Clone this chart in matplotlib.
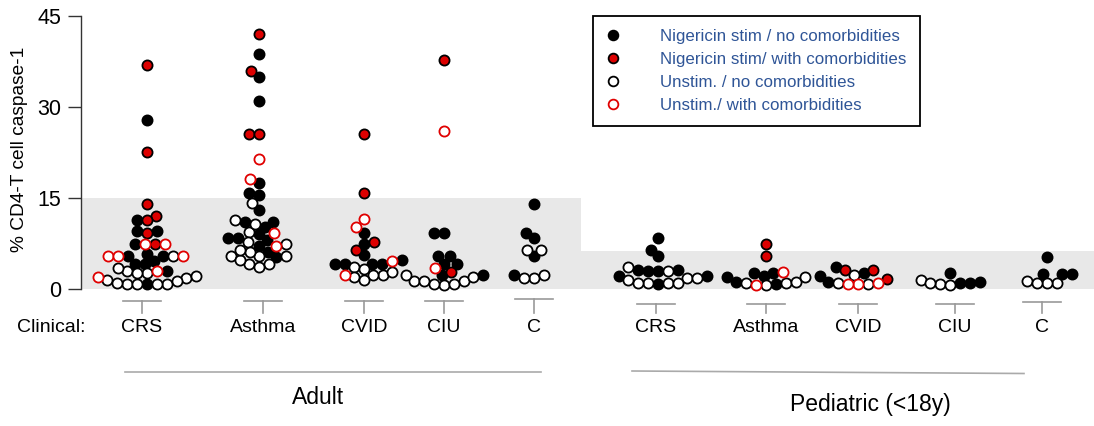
import numpy as np
import matplotlib
matplotlib.use("Agg")
import matplotlib.pyplot as plt
from matplotlib.lines import Line2D
import matplotlib.transforms as mtransforms

plt.rcParams['font.family'] = ['Liberation Sans', 'DejaVu Sans']

# ---------------- data ----------------
groups = ["Adult", "Pediatric (<18y)"]
categories = ["CRS", "Asthma", "CVID", "CIU", "C"]
series_labels = ["Nigericin stim / no comorbidities",
                 "Nigericin stim/ with comorbidities",
                 "Unstim. / no comorbidities",
                 "Unstim./ with comorbidities"]

# Adult
adult_stim_no = {
    "CRS": [27.8, 11.4, 9.6, 9.6, 7.4, 5.4, 5.4, 4.2, 5.8, 4.2, 4.6, 2.9, 0.9],
    "Asthma": [38.8, 35.0, 31.0, 17.4, 15.5, 15.9, 13.0, 11.1, 11.1, 10.3, 8.4, 8.4, 6.1, 5.2, 7.1, 8.1, 9.0],
    "CVID": [9.3, 7.4, 5.6, 4.8, 4.2, 4.2, 4.2, 4.2],
    "CIU": [9.3, 9.3, 5.5, 5.5, 4.2, 4.2, 2.3, 2.3],
    "C": [14.0, 9.3, 8.4, 5.4, 2.3],
}
adult_stim_with = {
    "CRS": [36.9, 22.5, 14.0, 12.0, 11.3, 9.3, 7.4],
    "Asthma": [42.1, 36.0, 25.6, 25.6],
    "CVID": [25.6, 15.9, 7.8, 6.5],
    "CIU": [37.8, 2.85],
    "C": [],
}
adult_unstim_no = {
    "CRS": [5.4, 2.9, 2.6, 0.9, 0.9, 0.9, 1.8, 2.6, 0.9, 3.4, 2.2, 1.3, 1.5, 1.0],
    "Asthma": [14.1, 11.4, 9.4, 7.7, 7.4, 5.5, 5.4, 4.2, 4.2, 5.5, 4.7, 6.1, 3.7, 10.7, 6.5],
    "CVID": [2.3, 3.7, 2.0, 2.3, 1.5, 3.3, 2.8],
    "CIU": [1.4, 1.3, 0.7, 0.9, 1.3, 0.9, 2.3, 1.9],
    "C": [6.5, 6.5, 1.8, 1.8, 2.3],
}
adult_unstim_with = {
    "CRS": [7.4, 5.4, 7.4, 5.4, 5.4, 1.9, 2.9],
    "Asthma": [21.5, 18.2, 9.2, 7.1],
    "CVID": [11.6, 10.3, 4.6, 2.3],
    "CIU": [26.0, 3.5],
    "C": [],
}
# Pediatric
ped_stim_no = {
    "CRS": [8.4, 6.5, 5.4, 3.0, 3.0, 3.2, 3.2, 2.1, 2.1, 0.9],
    "Asthma": [1.9, 0.9, 2.6, 2.6, 1.2, 2.2],
    "CVID": [3.6, 2.6, 2.2, 1.2],
    "CIU": [2.6, 1.0, 1.0, 1.2],
    "C": [5.3, 2.4, 2.4, 2.5],
}
ped_stim_with = {
    "CRS": [],
    "Asthma": [7.4, 5.4],
    "CVID": [1.7, 3.2, 3.2],
    "CIU": [],
    "C": [],
}
ped_unstim_no = {
    "CRS": [1.8, 1.0, 1.0, 1.0, 1.5, 1.0, 3.6, 3.0, 1.8],
    "Asthma": [1.0, 0.6, 1.0, 1.2, 1.9],
    "CVID": [2.3, 0.8, 1.0],
    "CIU": [0.8, 1.5, 0.7, 1.0],
    "C": [1.0, 1.4, 1.0, 1.0],
}
ped_unstim_with = {
    "CRS": [],
    "Asthma": [2.85, 0.7],
    "CVID": [0.8, 0.8, 1.0],
    "CIU": [],
    "C": [],
}
# reference (normal) range shading per group
normal_upper = [15.0, 6.3]
yticks = [0, 15, 30, 45]

# ---------------- layout ----------------
W, H = 1094, 426
fig = plt.figure(figsize=(W / 100, H / 100), dpi=100)
y0_px, y45_px = 289, 16
ax_left = 81
ax = fig.add_axes([ax_left / W, 1 - y0_px / H, (W - ax_left) / W, (y0_px - y45_px) / H])
ax.set_xlim(ax_left, W)
ax.set_ylim(0, 45)
px_per_unit = (y0_px - y45_px) / 45.0

label_x = {
    "Adult": [142, 263, 364, 444, 534],
    "Pediatric (<18y)": [656, 766, 858, 955, 1042],
}
swarm_x = {
    "Adult": [147, 259, 364, 444, 534],
    "Pediatric (<18y)": [658, 766, 858, 950, 1047],
}
band_x = {"Adult": (82, 581), "Pediatric (<18y)": (581, W)}

# shading
for g, up in zip(groups, normal_upper):
    x0, x1 = band_x[g]
    ax.fill_between([x0, x1], 0, up, color="#e8e8e8", lw=0, zorder=0)

styles = [
    dict(marker="o", mfc="black", mec="black"),
    dict(marker="o", mfc="#dd0000", mec="black"),
    dict(marker="o", mfc="white", mec="black"),
    dict(marker="o", mfc="white", mec="#e00000"),
]
ms = 7.3
mew = 1.3


def swarm(yp, d):
    order = np.argsort(yp)
    xs = np.zeros(len(yp))
    placed = []
    for i in order:
        y = yp[i]
        cands = [0.0]
        intervals = []
        for j in placed:
            dy = abs(yp[j] - y)
            if dy < d:
                w = np.sqrt(d * d - dy * dy)
                intervals.append((xs[j] - w, xs[j] + w))
                cands += [xs[j] - w, xs[j] + w]
        cands = sorted(cands, key=lambda c: (abs(c), c))
        for c in cands:
            if all(not (a + 1e-9 < c < b - 1e-9) for a, b in intervals):
                xs[i] = c
                break
        placed.append(i)
    return xs


group_data = {
    "Adult": [adult_stim_no, adult_stim_with, adult_unstim_no, adult_unstim_with],
    "Pediatric (<18y)": [ped_stim_no, ped_stim_with, ped_unstim_no, ped_unstim_with],
}

for g in groups:
    for ci, cat in enumerate(categories):
        vals, sers = [], []
        for si, d in enumerate(group_data[g]):
            vals += d[cat]
            sers += [si] * len(d[cat])
        vals = np.array(vals, float)
        sers = np.array(sers)
        xs = swarm(vals * px_per_unit, 10.0) + swarm_x[g][ci]
        for si in [2, 3, 0, 1]:
            m = sers == si
            if m.any():
                ax.plot(xs[m], vals[m], ls="none", ms=ms, mew=mew, zorder=3 + si * 0.1,
                        clip_on=False, **styles[si])

# axes styling
for s in ["top", "right", "bottom"]:
    ax.spines[s].set_visible(False)
ax.spines["left"].set_color("#333333")
ax.spines["left"].set_linewidth(1.0)
ax.set_xticks([])
ax.set_yticks(yticks)
ax.set_yticklabels([str(t) for t in yticks], fontsize=15.5)
ax.tick_params(axis="y", length=9.5, width=1.0, color="#333333", pad=4.5)
fig.text(20 / W, 1 - 149 / H, "% CD4-T cell caspase-1", rotation=90,
         ha="center", va="center", fontsize=13.8)

# category markers and labels
trans = mtransforms.blended_transform_factory(ax.transData, fig.transFigure)
bar_y = {"Adult": 301, "Pediatric (<18y)": 304}
for g in groups:
    for ci, cat in enumerate(categories):
        cx = label_x[g][ci]
        by = bar_y[g] - (2 if cat == "C" else 0)
        ax.plot([cx - 19, cx + 19], [1 - by / H] * 2, color="#999999", lw=1.2,
                transform=trans, clip_on=False)
        ax.plot([cx, cx], [1 - by / H, 1 - 313 / H], color="#999999", lw=1.2,
                transform=trans, clip_on=False)
        ax.text(cx, 1 - 327 / H, cat, transform=trans, ha="center", va="center",
                fontsize=14)
fig.text(51 / W, 1 - 327 / H, "Clinical:", ha="center", va="center", fontsize=14)

# group lines and labels
ax.plot([125, 541], [1 - 372 / H] * 2, color="#aaaaaa", lw=1.2, transform=trans, clip_on=False)
ax.plot([632, 1024], [1 - 371 / H, 1 - 373.5 / H], color="#aaaaaa", lw=1.2, transform=trans, clip_on=False)
ax.text(318, 1 - 398 / H, groups[0], transform=trans, ha="center", va="center", fontsize=16.5)
ax.text(870, 1 - 405 / H, groups[1], transform=trans, ha="center", va="center", fontsize=16.5)

# legend
handles = [Line2D([], [], ls="none", ms=7, mew=1.3, **st) for st in styles]
leg = fig.legend(handles, series_labels, loc="upper left",
                 bbox_to_anchor=(593 / W, 1 - 16 / H), bbox_transform=fig.transFigure,
                 borderaxespad=0, frameon=True, fancybox=False, edgecolor="black",
                 framealpha=1, fontsize=12.2, handlelength=0.8, handletextpad=2.4,
                 labelspacing=0.47, borderpad=0.78, labelcolor="#2F5597")
leg.get_frame().set_linewidth(1.3)

fig.savefig("out.png", dpi=100)
